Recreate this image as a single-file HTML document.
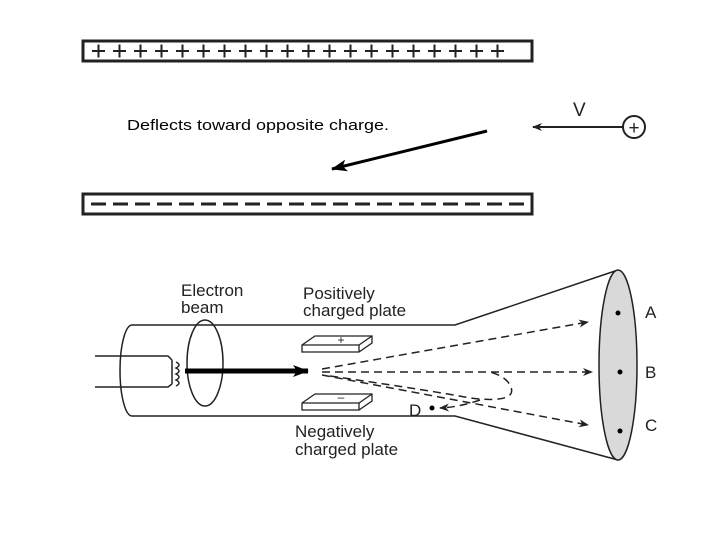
<!DOCTYPE html>
<html><head><style>
body{margin:0;background:#fff;width:720px;height:540px;overflow:hidden}
text{font-family:"Liberation Sans",Arial,sans-serif}
</style></head><body>
<svg width="720" height="540" viewBox="0 0 720 540" xmlns="http://www.w3.org/2000/svg">
<defs>
<marker id="ah" markerWidth="10" markerHeight="8" refX="9" refY="4" orient="auto" markerUnits="userSpaceOnUse"><path d="M0,0 L10,4 L0,8 L3,4 Z" fill="#222"/></marker>
<marker id="ab" markerWidth="16" markerHeight="12" refX="15" refY="6" orient="auto" markerUnits="userSpaceOnUse"><path d="M0,0 L16,6 L0,12 L4,6 Z" fill="#000"/></marker>
</defs>
<!-- plates -->
<rect x="83" y="41" width="449" height="20" fill="#fff" stroke="#222" stroke-width="3"/>
<g stroke="#222" stroke-width="2">
<path d="M92,51h13M98.5,44.5v13 M113,51h13M119.5,44.5v13 M134,51h13M140.5,44.5v13 M155,51h13M161.5,44.5v13 M176,51h13M182.5,44.5v13 M197,51h13M203.5,44.5v13 M218,51h13M224.5,44.5v13 M239,51h13M245.5,44.5v13 M260,51h13M266.5,44.5v13 M281,51h13M287.5,44.5v13 M302,51h13M308.5,44.5v13 M323,51h13M329.5,44.5v13 M344,51h13M350.5,44.5v13 M365,51h13M371.5,44.5v13 M386,51h13M392.5,44.5v13 M407,51h13M413.5,44.5v13 M428,51h13M434.5,44.5v13 M449,51h13M455.5,44.5v13 M470,51h13M476.5,44.5v13 M491,51h13M497.5,44.5v13"/>
</g>
<rect x="83" y="194" width="449" height="20" fill="#fff" stroke="#222" stroke-width="3"/>
<line x1="91" y1="204" x2="525" y2="204" stroke="#222" stroke-width="3" stroke-dasharray="15,7"/>
<text x="127" y="130" font-size="15" fill="#000" textLength="262" lengthAdjust="spacingAndGlyphs">Deflects toward opposite charge.</text>
<line x1="487" y1="131" x2="332" y2="169" stroke="#000" stroke-width="3" marker-end="url(#ab)"/>
<text x="573" y="116" font-size="19" fill="#222">V</text>
<line x1="623" y1="127" x2="533" y2="127" stroke="#222" stroke-width="2" marker-end="url(#ah)"/>
<circle cx="634" cy="127" r="11" fill="#fff" stroke="#222" stroke-width="2"/>
<text x="634" y="134" font-size="19" text-anchor="middle" fill="#222">+</text>
<!-- tube -->
<path d="M132,325 L455,325 L618,270" fill="none" stroke="#222" stroke-width="1.5"/>
<path d="M132,416 L455,416 L618,460" fill="none" stroke="#222" stroke-width="1.5"/>
<path d="M132,325 A12,45.5 0 0 0 132,416" fill="none" stroke="#222" stroke-width="1.5"/>
<ellipse cx="618" cy="365" rx="19" ry="95" fill="#d9d9d9" stroke="#222" stroke-width="1.5"/>
<ellipse cx="205" cy="363" rx="18" ry="43" fill="none" stroke="#222" stroke-width="1.5"/>
<path d="M95,356 L168,356 L172,360 M95,387 L168,387 L172,384 M172,360 L172,384" fill="none" stroke="#222" stroke-width="1.5"/>
<path d="M176,362 q6,3 0,6 q6,3 0,6 q6,3 0,6 q6,3 0,6" fill="none" stroke="#222" stroke-width="1.5"/>
<line x1="185" y1="371" x2="308" y2="371" stroke="#000" stroke-width="5" marker-end="url(#ab)"/>
<!-- plates in tube -->
<path d="M302,345 L315,336 L372,336 L372,343 L359,352 L302,352 Z M302,345 L359,345 L372,336 M359,345 L359,352" fill="#fff" stroke="#222" stroke-width="1.3"/>
<text x="341" y="344" font-size="12" text-anchor="middle" fill="#222">+</text>
<path d="M302,403 L315,394 L372,394 L372,401 L359,410 L302,410 Z M302,403 L359,403 L372,394 M359,403 L359,410" fill="#fff" stroke="#222" stroke-width="1.3"/>
<text x="341" y="401" font-size="12" text-anchor="middle" fill="#222">–</text>
<!-- dashed paths -->
<g fill="none" stroke="#222" stroke-width="1.5" stroke-dasharray="8,5">
<path d="M322,369 L588,322" marker-end="url(#ah)"/>
<path d="M322,372 L592,372" marker-end="url(#ah)"/>
<path d="M322,375 L588,425" marker-end="url(#ah)"/>
<path d="M330,376 Q440,392 470,398 Q520,404 510,385 Q505,376 490,372"/>
<path d="M480,400 Q460,407 440,408" marker-end="url(#ah)"/>
</g>
<circle cx="618" cy="313" r="2.5" fill="#000"/>
<circle cx="620" cy="372" r="2.5" fill="#000"/>
<circle cx="620" cy="431" r="2.5" fill="#000"/>
<circle cx="432" cy="408" r="2.5" fill="#000"/>
<g font-size="17" fill="#222">
<text x="645" y="318">A</text><text x="645" y="378">B</text><text x="645" y="431">C</text>
<text x="409" y="416">D</text>
<text x="181" y="296">Electron</text><text x="181" y="313">beam</text>
<text x="303" y="299">Positively</text><text x="303" y="316">charged plate</text>
<text x="295" y="437">Negatively</text><text x="295" y="455">charged plate</text>
</g>
</svg>
</body></html>
